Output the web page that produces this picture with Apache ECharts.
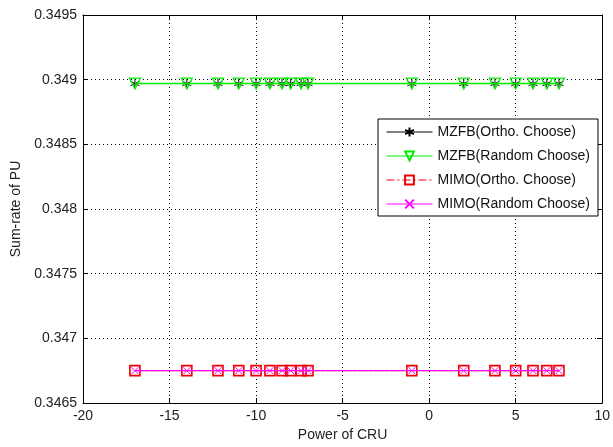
<!DOCTYPE html>
<html>
<head>
<meta charset="utf-8">
<script src="https://cdn.jsdelivr.net/npm/echarts@6/dist/echarts.min.js"></script>
<style>html,body{margin:0;padding:0;background:#fff}#c{width:613px;height:447px}</style>
</head>
<body>
<div id="c"></div>
<script>
const powerCRU = [-17, -14, -12.2, -11, -10, -9.2, -8.5, -8, -7.4, -7, -1, 2, 3.8, 5, 6, 6.8, 7.5];
const mzfbOrtho = [0.34897, 0.34897, 0.34897, 0.34897, 0.34897, 0.34897, 0.34897, 0.34897, 0.34897, 0.34897, 0.34897, 0.34897, 0.34897, 0.34897, 0.34897, 0.34897, 0.34897];
const mzfbRandom = [0.34897, 0.34897, 0.34897, 0.34897, 0.34897, 0.34897, 0.34897, 0.34897, 0.34897, 0.34897, 0.34897, 0.34897, 0.34897, 0.34897, 0.34897, 0.34897, 0.34897];
const mimoOrtho = [0.34675, 0.34675, 0.34675, 0.34675, 0.34675, 0.34675, 0.34675, 0.34675, 0.34675, 0.34675, 0.34675, 0.34675, 0.34675, 0.34675, 0.34675, 0.34675, 0.34675];
const mimoRandom = [0.34675, 0.34675, 0.34675, 0.34675, 0.34675, 0.34675, 0.34675, 0.34675, 0.34675, 0.34675, 0.34675, 0.34675, 0.34675, 0.34675, 0.34675, 0.34675, 0.34675];
const seriesNames = ['MZFB(Ortho. Choose)', 'MZFB(Random Choose)', 'MIMO(Ortho. Choose)', 'MIMO(Random Choose)'];
const xTitle = 'Power of CRU';
const yTitle = 'Sum-rate of PU';

const pairs = ys => powerCRU.map((x, i) => [x, ys[i]]);
const FONT = 'Liberation Sans, Arial, sans-serif';
const starPath = 'path://M0,-1L0,1M-0.87,-0.5L0.87,0.5M-0.87,0.5L0.87,-0.5';
const xPath = 'path://M-1,-1L1,1M-1,1L1,-1';

function mk(name, data, color, symbol, size, lineType, rot, lw, z, bw) {
  return {
    name, type: 'line', data: pairs(data), color, z: z,
    symbol, symbolSize: size, symbolRotate: rot || 0,
    showSymbol: true, animation: false,
    lineStyle: { color, width: lw || 1, type: lineType || 'solid' },
    itemStyle: { color: 'rgba(0,0,0,0)', borderColor: color, borderWidth: bw || 1 },
    emphasis: { disabled: true }
  };
}

const chart = echarts.init(document.getElementById('c'), null, { renderer: 'canvas' });
const gridLine = { show: true, lineStyle: { color: '#000', type: [1, 3], width: 1 } };
const frameAxisLine = { show: true, onZero: false, lineStyle: { color: '#000' } };
chart.setOption({
  animation: false,
  backgroundColor: '#fff',
  textStyle: { fontFamily: FONT },
  grid: { left: 83, top: 15, right: 9, bottom: 42 },
  legend: {
    orient: 'vertical', left: 378, top: 119, z: 10,
    backgroundColor: '#fff', borderColor: '#000', borderWidth: 1,
    padding: [6, 8, 5, 8], itemWidth: 46, itemHeight: 11, itemGap: 10,
    lineStyle: { width: 1 },
    textStyle: { fontSize: 14, color: '#111', fontFamily: FONT },
    data: seriesNames
  },
  xAxis: [{
    type: 'value', min: -20, max: 10, interval: 5,
    name: xTitle, nameLocation: 'middle', nameGap: 25,
    nameTextStyle: { fontSize: 14, color: '#222' },
    axisLine: frameAxisLine,
    axisTick: { show: true, inside: true, length: 5, lineStyle: { color: '#000' } },
    axisLabel: { fontSize: 14, color: '#222', margin: 6 },
    splitLine: gridLine
  }, {
    type: 'value', min: -20, max: 10, interval: 5, position: 'top',
    axisLine: frameAxisLine,
    axisTick: { show: true, inside: true, length: 5, lineStyle: { color: '#000' } },
    axisLabel: { show: false }, splitLine: { show: false }
  }],
  yAxis: [{
    type: 'value', min: 0.3465, max: 0.3495, interval: 0.0005,
    name: yTitle, nameLocation: 'middle', nameGap: 58,
    nameTextStyle: { fontSize: 14, color: '#222' },
    axisLine: frameAxisLine,
    axisTick: { show: true, inside: true, length: 5, lineStyle: { color: '#000' } },
    axisLabel: { fontSize: 14, color: '#222', margin: 6, formatter: v => String(+v.toFixed(4)) },
    splitLine: gridLine
  }, {
    type: 'value', min: 0.3465, max: 0.3495, interval: 0.0005, position: 'right',
    axisLine: frameAxisLine,
    axisTick: { show: true, inside: true, length: 5, lineStyle: { color: '#000' } },
    axisLabel: { show: false }, splitLine: { show: false }
  }],
  series: [
    mk(seriesNames[0], mzfbOrtho, '#000000', starPath, 9, 'solid', 0, 1, 2, 1),
    mk(seriesNames[1], mzfbRandom, '#00ee00', 'triangle', 11, 'solid', 180, 1.6, 3, 1.2),
    mk(seriesNames[2], mimoOrtho, '#ee0000', 'rect', 10, [8, 3, 2, 3], 0, 1, 2, 1.6),
    mk(seriesNames[3], mimoRandom, '#ff00ff', xPath, 7, 'solid', 0, 1.4, 3, 1)
  ]
});
</script>
</body>
</html>
